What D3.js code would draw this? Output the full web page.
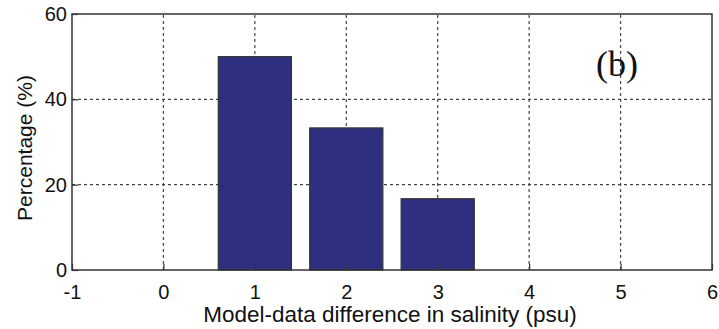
<!DOCTYPE html>
<html><head><meta charset="utf-8">
<script src="https://cdn.jsdelivr.net/npm/d3@7"></script>
<style>body{margin:0;background:#fff;} svg{display:block;}</style>
</head><body>
<script>
const categories = [1, 2, 3];
const values = [50, 33.3, 16.7];
const xTicks = [-1, 0, 1, 2, 3, 4, 5, 6];
const yTicks = [0, 20, 40, 60];
const xLabel = "Model-data difference in salinity (psu)";
const yLabel = "Percentage (%)";
const panelLabel = "(b)";

const W = 719, H = 329;
const m = {left: 72, top: 14, right: 7, bottom: 59};
const svg = d3.select("body").append("svg").attr("width", W).attr("height", H);
const x = d3.scaleLinear().domain([-1, 6]).range([m.left, W - m.right]);
const y = d3.scaleLinear().domain([0, 60]).range([H - m.bottom, m.top]);
const font = "'Liberation Sans', Arial, Helvetica, sans-serif";

// grid
const g = svg.append("g");
g.selectAll(".vg").data(xTicks.filter(d => d > -1 && d < 6)).join("line")
  .attr("x1", d => x(d)).attr("x2", d => x(d)).attr("y1", y(0)).attr("y2", y(60))
  .attr("stroke", "#444").attr("stroke-width", 1.2).attr("stroke-dasharray", "3,3");
g.selectAll(".hg").data(yTicks.filter(d => d > 0 && d < 60)).join("line")
  .attr("y1", d => y(d)).attr("y2", d => y(d)).attr("x1", x(-1)).attr("x2", x(6))
  .attr("stroke", "#444").attr("stroke-width", 1.2).attr("stroke-dasharray", "3,3");

// bars
const bw = 0.8;
svg.selectAll(".bar").data(categories).join("rect")
  .attr("x", d => x(d - bw / 2)).attr("width", d => x(d + bw / 2) - x(d - bw / 2))
  .attr("y", (d, i) => y(values[i])).attr("height", (d, i) => y(0) - y(values[i]))
  .attr("fill", "#2e2f7e").attr("stroke", "#333").attr("stroke-width", 1.2);

// frame
svg.append("rect").attr("x", x(-1)).attr("y", y(60)).attr("width", x(6) - x(-1)).attr("height", y(0) - y(60))
  .attr("fill", "none").attr("stroke", "#333").attr("stroke-width", 1.5);

// axes
const xAxis = svg.append("g").attr("transform", `translate(0,${y(0)})`)
  .call(d3.axisBottom(x).tickValues(xTicks).tickSize(-6).tickPadding(15).tickFormat(d => String(d)));
const yAxis = svg.append("g").attr("transform", `translate(${x(-1)},0)`)
  .call(d3.axisLeft(y).tickValues(yTicks).tickSize(-6).tickPadding(5).tickFormat(d => String(d)));
[xAxis, yAxis].forEach(a => {
  a.select(".domain").remove();
  a.selectAll(".tick line").attr("stroke", "#333").attr("stroke-width", 1.2);
  a.selectAll("text").attr("font-family", font).attr("font-size", 20).attr("fill", "#111");
});

svg.append("text").attr("x", 390).attr("y", 322).attr("text-anchor", "middle")
  .attr("font-family", font).attr("font-size", 22.5).attr("fill", "#111").text(xLabel);
svg.append("text").attr("transform", `translate(32,148) rotate(-90)`)
  .attr("text-anchor", "middle").attr("font-family", font).attr("font-size", 21).attr("fill", "#111").text(yLabel);
svg.append("text").attr("x", 617).attr("y", 76).attr("text-anchor", "middle")
  .attr("font-family", "'Liberation Serif', 'Times New Roman', serif").attr("font-size", 36).attr("fill", "#111").text(panelLabel);
</script>
</body></html>
